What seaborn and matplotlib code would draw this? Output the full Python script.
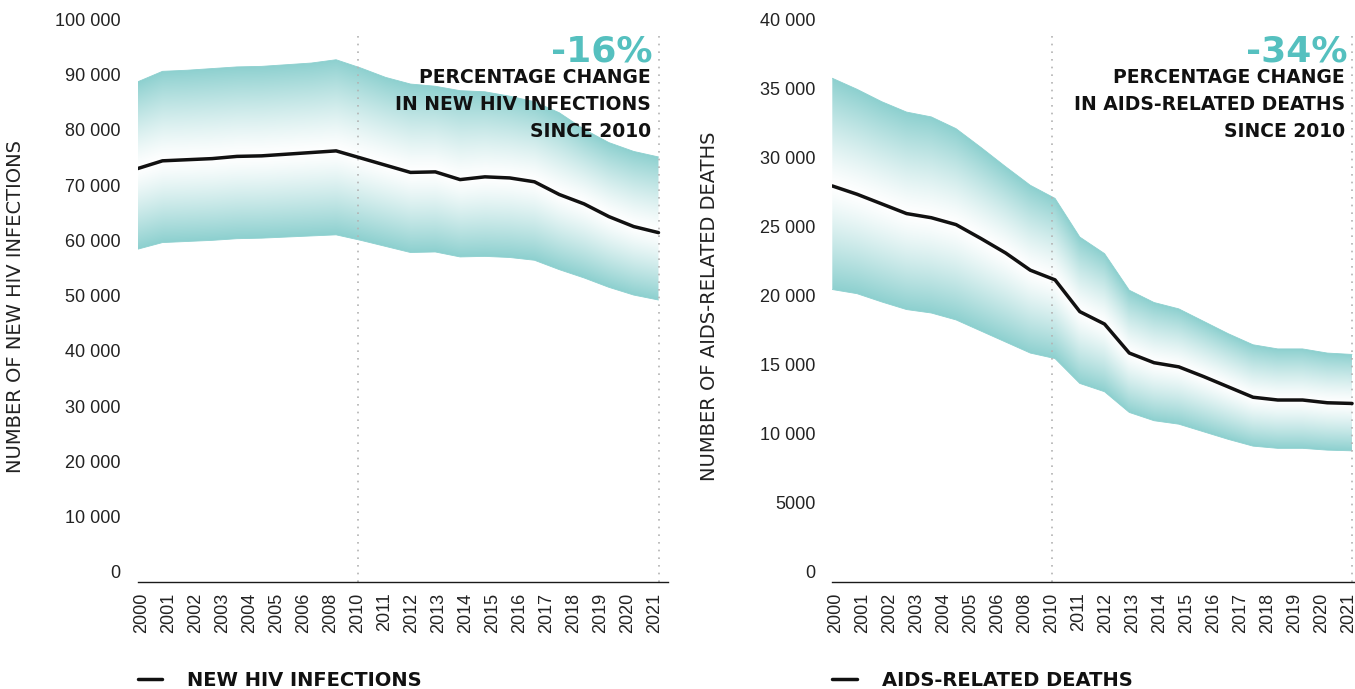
import numpy as np
import pandas as pd
import matplotlib
matplotlib.use("Agg")
import matplotlib.pyplot as plt
from matplotlib.colors import to_rgb
import seaborn as sns

# ---- data -------------------------------------------------------------
years = list(range(2000, 2022))
year_labels = ["2000", "2001", "2002", "2003", "2004", "2005", "2006", "2008",
               "2010", "2011", "2012", "2013", "2014", "2015", "2016", "2017",
               "2018", "2019", "2020", "2021"]

new_infections = [74900, 76300, 76500, 76700, 77100, 77200, 77500, 77800, 78100,
                  76800, 75500, 74200, 74300, 72900, 73400, 73200, 72500, 70200,
                  68500, 66200, 64400, 63300]
new_infections_high = [90600, 92500, 92700, 93000, 93300, 93400, 93700, 94000, 94600,
                       93100, 91400, 90200, 89800, 89000, 88800, 88000, 87000, 85000,
                       82000, 79600, 78000, 77000]
new_infections_low = [60300, 61500, 61700, 61900, 62200, 62300, 62500, 62700, 62900,
                      61900, 60800, 59700, 59800, 58900, 59000, 58800, 58300, 56600,
                      55100, 53400, 52000, 51100]

aids_deaths = [28700, 28100, 27400, 26700, 26400, 25900, 24900, 23850, 22600,
               21900, 19600, 18700, 16600, 15900, 15600, 14900, 14150, 13400,
               13200, 13200, 13000, 12950]
aids_deaths_high = [36500, 35700, 34800, 34050, 33700, 32850, 31500, 30100, 28750,
                    27800, 25000, 23800, 21150, 20260, 19800, 18900, 18000, 17200,
                    16900, 16900, 16600, 16500]
aids_deaths_low = [21200, 20900, 20300, 19750, 19500, 19000, 18200, 17400, 16600,
                   16200, 14400, 13800, 12300, 11700, 11450, 10900, 10350, 9860,
                   9700, 9700, 9570, 9520]

infection_ticks = list(range(0, 100001, 10000))
death_ticks = list(range(0, 40001, 5000))

infection_change = "-16%"
death_change = "-34%"
infection_note = "PERCENTAGE CHANGE\nIN NEW HIV INFECTIONS\nSINCE 2010"
death_note = "PERCENTAGE CHANGE\nIN AIDS-RELATED DEATHS\nSINCE 2010"

# ---- style ------------------------------------------------------------
TEAL_BAND = "#8dd0cf"
TEAL_TEXT = "#55c0bf"
INK = "#111111"
GREY_TXT = "#222222"

sns.set_theme(style="white")
plt.rcParams["font.family"] = ["DejaVu Sans"]

W, H = 1355, 689
fig = plt.figure(figsize=(W / 100, H / 100), dpi=100)
fig.patch.set_facecolor("white")


def fmt_tick(v):
    return f"{v:,}".replace(",", " ") if v >= 10000 else str(v)


def draw_panel(ax, line, high, low, ymax, ticks, ylabel, legend_label,
               change, note, text_x, ylabel_x, xmax):
    df = pd.DataFrame({"year": years, "value": line})

    # gradient uncertainty band: white along the estimate, teal at the bounds
    xs = np.linspace(years[0], years[-1], 900)
    ys = np.linspace(min(low), max(high), 600)
    mid = np.interp(xs, years, line)
    hi = np.interp(xs, years, high)
    lo = np.interp(xs, years, low)
    Y = ys[:, None]
    t = np.where(Y >= mid, (Y - mid) / (hi - mid), (mid - Y) / (mid - lo))
    t = np.clip(t, 0, 1) ** 1.25
    white = np.array([1.0, 1.0, 1.0])
    teal = np.array(to_rgb(TEAL_BAND))
    rgb = white + (teal - white) * t[..., None]
    im = ax.imshow(rgb, extent=[xs[0], xs[-1], ys[0], ys[-1]], origin="lower",
                   aspect="auto", interpolation="bilinear", zorder=1)
    band = ax.fill_between(years, low, high, facecolor="none", edgecolor="none")
    im.set_clip_path(band.get_paths()[0], transform=ax.transData)
    ax.plot(years, high, color=TEAL_BAND, lw=0.6, zorder=1.1)
    ax.plot(years, low, color=TEAL_BAND, lw=0.6, zorder=1.1)

    tick_pos = np.linspace(years[0] + 0.15, years[-1] - 0.15, len(year_labels))

    # dotted reference lines at 2010 and at the latest year
    for xv in (tick_pos[year_labels.index("2010")], years[-1]):
        ax.axvline(xv, color="#b3b3b3", lw=1.2, ls=(0, (1, 3.6)), zorder=2)

    sns.lineplot(data=df, x="year", y="value", color=INK, lw=2.5, ax=ax,
                 label=legend_label, zorder=3)

    ax.set_xlim(years[0], xmax)
    ax.set_ylim(0, ymax)

    ax.set_xticks(tick_pos, year_labels, rotation=90)
    ax.set_yticks(ticks, [fmt_tick(v) for v in ticks])
    ax.tick_params(axis="x", length=0, pad=7.5, labelsize=13,
                   labelcolor=GREY_TXT, labelfontfamily="Liberation Sans")
    ax.tick_params(axis="y", length=0, pad=12.2, labelsize=13,
                   labelcolor=GREY_TXT, labelfontfamily="Liberation Sans")
    for lbl in ax.get_yticklabels():
        lbl.set_verticalalignment("bottom")

    ax.set_xlabel("")
    ax.set_ylabel(ylabel, fontsize=14, color=GREY_TXT)
    ax.yaxis.set_label_coords(ylabel_x, 0.5)

    sns.despine(ax=ax, left=True, top=True, right=True)
    ax.spines["bottom"].set_color("#1a1a1a")
    ax.spines["bottom"].set_linewidth(1.0)
    ax.grid(False)

    ax.text(text_x + 0.004, 0.9424, change, transform=ax.transAxes, ha="right",
            va="baseline", fontsize=26, fontweight="bold", color=TEAL_TEXT)
    ax.text(text_x, 0.9316, note, transform=ax.transAxes, ha="right", va="top",
            ma="right", fontsize=13.5, fontweight="bold", color=INK,
            linespacing=1.55)

    leg = ax.legend(loc="center left", bbox_to_anchor=(0.0, -0.177), frameon=False,
                    prop={"weight": "bold", "size": 14}, handlelength=1.25,
                    handletextpad=1.3, borderaxespad=0, borderpad=0)
    for txt in leg.get_texts():
        txt.set_color(INK)


ax1 = fig.add_axes([137.7 / W, 1 - 582.3 / H, 529.9 / W, 552.4 / H])
ax2 = fig.add_axes([832.3 / W, 1 - 582.3 / H, 522.7 / W, 552.4 / H])

draw_panel(ax1, new_infections, new_infections_high, new_infections_low,
           100000, infection_ticks, "NUMBER OF NEW HIV INFECTIONS",
           "NEW HIV INFECTIONS", infection_change, infection_note,
           0.968, -0.2127, 2000 + 529.9 / 24.8)
draw_panel(ax2, aids_deaths, aids_deaths_high, aids_deaths_low,
           40000, death_ticks, "NUMBER OF AIDS-RELATED DEATHS",
           "AIDS-RELATED DEATHS", death_change, death_note,
           0.981, -0.2168, 2000 + 522.7 / 24.75)

fig.savefig("out.png", dpi=100, facecolor="white")
